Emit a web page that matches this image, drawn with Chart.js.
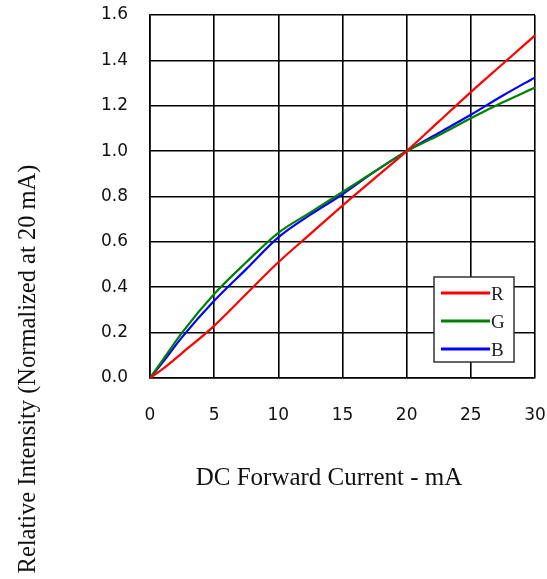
<!DOCTYPE html>
<html>
<head>
<meta charset="utf-8">
<script src="https://cdn.jsdelivr.net/npm/chart.js@4.4.0/dist/chart.umd.min.js"></script>
<style>
  html, body { margin: 0; padding: 0; background: #fff; }
  #wrap { width: 547px; height: 579px; }
</style>
</head>
<body>
<div id="wrap"><canvas id="chart" width="547" height="579"></canvas></div>
<script>
// current (mA) and relative intensity
const corriente = [0, 1, 2.5, 5, 7.5, 10, 12.5, 15, 17.5, 20, 22.5, 25, 27.5, 30];
const rojo  = [0, 0.04, 0.11, 0.23, 0.37, 0.51, 0.635, 0.76, 0.88, 1.0, 1.13, 1.26, 1.385, 1.51];
const verde = [0, 0.08, 0.20, 0.37, 0.51, 0.64, 0.73, 0.82, 0.91, 1.0, 1.07, 1.145, 1.215, 1.28];
const azul  = [0, 0.07, 0.18, 0.34, 0.48, 0.62, 0.72, 0.81, 0.91, 1.0, 1.08, 1.16, 1.245, 1.325];
const series = ["R", "G", "B"];
const colores = ["#ff0000", "#008000", "#0000ff"];

const puntos = arr => arr.map((v, i) => ({ x: corriente[i], y: v }));

// legend box + axis titles drawn by hand so they sit where the original has them
const extras = {
  id: "extras",
  afterDraw(chart) {
    const c = chart.ctx;
    const a = chart.chartArea;
    c.save();
    // legend box
    const bx = a.right - 101, by = 277, bw = 80, bh = 85;
    c.fillStyle = "#fff";
    c.fillRect(bx, by, bw, bh);
    c.strokeStyle = "#333";
    c.lineWidth = 1.5;
    c.strokeRect(bx, by, bw, bh);
    c.font = "19px 'Liberation Serif', serif";
    c.textBaseline = "middle";
    series.forEach((s, i) => {
      const y = by + 16 + i * 28;
      c.strokeStyle = colores[i];
      c.lineWidth = 3;
      c.beginPath();
      c.moveTo(bx + 7, y);
      c.lineTo(bx + 56, y);
      c.stroke();
      c.fillStyle = "#222";
      c.fillText(s, bx + 57, y + 2);
    });
    // axis titles
    c.fillStyle = "#111";
    c.font = "25px 'Liberation Serif', serif";
    c.textAlign = "center";
    c.textBaseline = "alphabetic";
    c.fillText("DC Forward Current - mA", 329, 485);
    c.translate(35, 369);
    c.rotate(-Math.PI / 2);
    c.font = "24.5px 'Liberation Serif', serif";
    c.fillText("Relative Intensity (Normalized at 20 mA)", 0, 0);
    c.restore();
  }
};

const ctx = document.getElementById("chart").getContext("2d");
new Chart(ctx, {
  type: "line",
  data: {
    datasets: [rojo, verde, azul].map((d, i) => ({
      label: series[i],
      data: puntos(d),
      borderColor: colores[i],
      borderWidth: 2.2,
      pointRadius: 0,
      fill: false,
      cubicInterpolationMode: "monotone"
    }))
  },
  options: {
    responsive: false,
    animation: false,
    layout: { padding: { top: 15, right: 12, left: 0, bottom: 0 } },
    plugins: { legend: { display: false }, tooltip: { enabled: false } },
    scales: {
      x: {
        type: "linear",
        min: 0, max: 30,
        afterFit: s => { s.height = 201; s.paddingLeft = 0; s.paddingRight = 0; },
        grid: { color: "#000", lineWidth: 1.6, drawTicks: false },
        border: { color: "#000", width: 1.6 },
        ticks: {
          stepSize: 5, padding: 27, color: "#111",
          font: { family: "'DejaVu Sans', sans-serif", size: 17 }
        }
      },
      y: {
        min: 0, max: 1.6,
        afterFit: s => { s.width = 150; s.paddingTop = 0; s.paddingBottom = 0; },
        grid: { color: "#000", lineWidth: 1.6, drawTicks: false },
        border: { color: "#000", width: 1.6 },
        ticks: {
          stepSize: 0.2, padding: 22, color: "#111",
          font: { family: "'DejaVu Sans', sans-serif", size: 17 },
          callback: v => v.toFixed(1)
        }
      }
    }
  },
  plugins: [extras]
});
</script>
</body>
</html>
